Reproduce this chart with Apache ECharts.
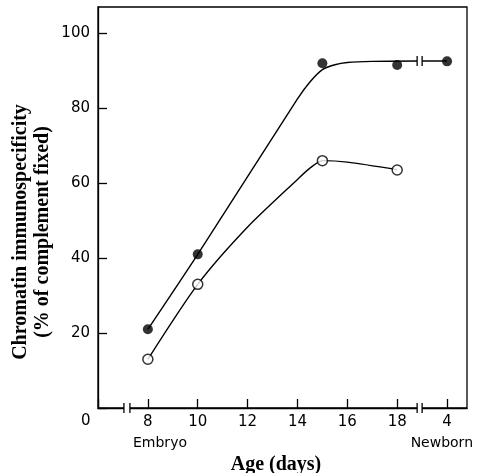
<!DOCTYPE html>
<html>
<head>
<meta charset="utf-8">
<script src="https://cdn.jsdelivr.net/npm/echarts@6/dist/echarts.min.js"></script>
<style>
  html, body { margin: 0; padding: 0; background: #fff; }
  #chart { width: 482px; height: 473px; }
</style>
</head>
<body>
<div id="chart"></div>
<script>
// measured points (age in days; newborn day 4 sits at slot 20)
const filledAge = [8, 10, 15, 18, 20];
const filledVal = [21, 41, 92, 91.5, 92.5];
const openAge = [8, 10, 15, 18];
const openVal = [13, 33, 66, 63.5];

// hand-drawn curves
const filledCurveX = [8, 10, 14, 14.5, 15, 15.5, 16, 17, 18.8];
const filledCurveY = [21, 41, 82.5, 87, 90.3, 91.6, 92.2, 92.5, 92.6];
const filledTailX = [19, 20];
const filledTailY = [92.6, 92.6];
const openCurveX = [8, 10, 12, 14, 14.5, 15, 16, 18];
const openCurveY = [13, 33, 48.3, 61, 64, 66, 65.6, 63.6];

// x tick labels
const tickValues = [8, 10, 12, 14, 16, 18, 20];
const tickText = ['8', '10', '12', '14', '16', '18', '4'];

// axis / curve breaks: [from, to, level]
const breaks = [[7.04, 7.28, 0], [18.8, 19.0, 0], [18.8, 19.0, 92.6]];

const zip = (xs, ys) => xs.map((x, i) => [x, ys[i]]);

const chart = echarts.init(document.getElementById('chart'));

const option = {
  animation: false,
  backgroundColor: '#fff',
  grid: {
    left: 98, right: 15, top: 7, bottom: 65,
    show: true, borderColor: '#000', borderWidth: 1.3
  },
  xAxis: {
    type: 'value',
    min: 6, max: 20.8, interval: 2,
    splitLine: { show: false },
    axisLine: { lineStyle: { color: '#000', width: 1.3 } },
    axisTick: { inside: true, length: 9, lineStyle: { color: '#000', width: 1.3 } },
    axisLabel: {
      margin: 7, color: '#000', fontSize: 15, fontFamily: 'DejaVu Sans',
      showMaxLabel: false,
      formatter: v => {
        const i = tickValues.indexOf(v);
        return i >= 0 ? tickText[i] : '';
      }
    }
  },
  yAxis: {
    type: 'value',
    min: 0, max: 107, interval: 20,
    splitLine: { show: false },
    axisLine: { lineStyle: { color: '#000', width: 1.3 } },
    axisTick: { inside: true, length: 9, lineStyle: { color: '#000', width: 1.3 } },
    axisLabel: {
      margin: 8, color: '#000', fontSize: 15, fontFamily: 'DejaVu Sans',
      showMaxLabel: false,
      formatter: v => (v === 0 || v % 20 !== 0) ? '' : String(v)
    }
  },
  graphic: [
    {
      type: 'text', left: 81, top: 414,
      style: { text: '0', fill: '#000', font: '15px "DejaVu Sans"' }
    },
    {
      type: 'text', left: 133, top: 436,
      style: { text: 'Embryo', fill: '#000', font: '14px "DejaVu Sans"' }
    },
    {
      type: 'text', right: 9, top: 436,
      style: { text: 'Newborn', fill: '#000', font: '14px "DejaVu Sans"' }
    },
    {
      type: 'text', x: 276, y: 465,
      style: {
        text: 'Age (days)', fill: '#000', font: 'bold 20px "Liberation Serif"',
        align: 'center', verticalAlign: 'middle'
      }
    },
    {
      type: 'text', x: 32, y: 232, rotation: Math.PI / 2,
      style: {
        text: 'Chromatin immunospecificity\n(% of complement fixed)',
        fill: '#000', font: 'bold 20px "Liberation Serif"',
        lineHeight: 22, align: 'center', verticalAlign: 'middle'
      }
    }
  ],
  series: [
    {
      type: 'line', data: zip(filledCurveX, filledCurveY),
      smooth: 0.25, showSymbol: false, symbol: 'none',
      lineStyle: { color: '#000', width: 1.4 }, z: 2
    },
    {
      type: 'line', data: zip(filledTailX, filledTailY),
      showSymbol: false, symbol: 'none',
      lineStyle: { color: '#000', width: 1.4 }, z: 2
    },
    {
      type: 'line', data: zip(openCurveX, openCurveY),
      smooth: 0.25, showSymbol: false, symbol: 'none',
      lineStyle: { color: '#000', width: 1.4 }, z: 2
    },
    {
      type: 'custom',
      data: breaks,
      clip: false,
      z: 3,
      renderItem: (params, api) => {
        const a = api.coord([api.value(0), api.value(2)]);
        const b = api.coord([api.value(1), api.value(2)]);
        const h = 5;
        return {
          type: 'group',
          children: [
            { type: 'rect', shape: { x: a[0], y: a[1] - 2, width: b[0] - a[0], height: 4 },
              style: { fill: '#fff' } },
            { type: 'line', shape: { x1: a[0], y1: a[1] - h, x2: a[0], y2: a[1] + h },
              style: { stroke: '#000', lineWidth: 1.3 } },
            { type: 'line', shape: { x1: b[0], y1: b[1] - h, x2: b[0], y2: b[1] + h },
              style: { stroke: '#000', lineWidth: 1.3 } }
          ]
        };
      }
    },
    {
      type: 'scatter', data: zip(filledAge, filledVal),
      symbol: 'circle', symbolSize: 10,
      itemStyle: { color: '#000' }, z: 4
    },
    {
      type: 'scatter', data: zip(openAge, openVal),
      symbol: 'circle', symbolSize: 10,
      itemStyle: { color: '#fff', borderColor: '#000', borderWidth: 1.5 }, z: 4
    }
  ]
};

chart.setOption(option);
</script>
</body>
</html>
